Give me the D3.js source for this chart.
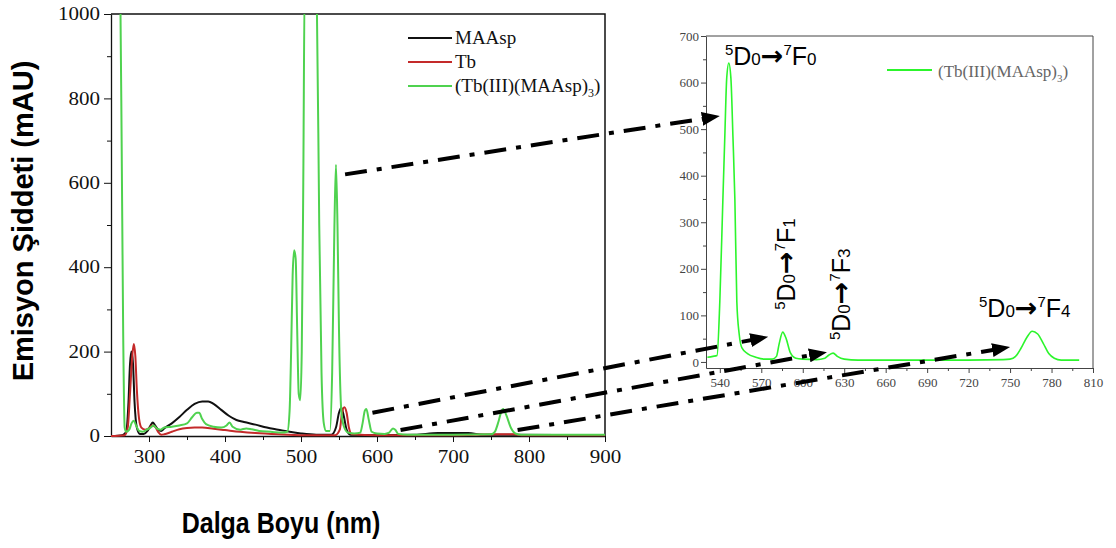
<!DOCTYPE html>
<html>
<head>
<meta charset="utf-8">
<script src="https://cdn.jsdelivr.net/npm/d3@7"></script>
<style>
  body { margin: 0; background: #fff; }
  svg { display: block; }
</style>
</head>
<body>
<svg id="chart" width="1116" height="548"></svg>
<script>
// ---- data ----
// main spectrum (nm / intensity mAU)
var maaspNm  = [250, 265, 270, 273, 275, 277, 279, 281, 284, 288, 293, 298, 302, 305, 308, 312, 316, 320, 330, 340, 350, 360, 370, 378, 385, 395, 405, 415, 425, 440, 455, 470, 485, 500, 520, 540, 546, 550, 553, 556, 560, 565, 600, 650, 680, 720, 740, 900];
var maaspVal = [0, 2, 10, 80, 170, 200, 170, 80, 20, 5, 5, 12, 25, 32, 25, 15, 12, 18, 30, 45, 62, 76, 82, 82, 76, 62, 48, 38, 33, 27, 20, 15, 10, 6, 3, 3, 20, 55, 67, 50, 15, 3, 2, 3, 7, 7, 3, 2];

var tbNm  = [250, 268, 272, 275, 278, 280, 282, 284, 287, 290, 295, 300, 304, 308, 312, 316, 320, 330, 340, 350, 360, 370, 385, 400, 420, 440, 470, 500, 545, 551, 554, 557, 560, 563, 567, 600, 700, 760, 780, 790, 900];
var tbVal = [0, 2, 20, 100, 190, 218, 190, 110, 40, 20, 15, 18, 25, 22, 10, 3, 4, 10, 16, 19, 20, 20, 17, 14, 10, 7, 4, 2, 2, 15, 55, 68, 55, 20, 4, 2, 2, 4, 4, 2, 2];

var complexNm  = [250, 260, 262, 264, 266, 268, 270, 274, 277, 280, 283, 287, 292, 297, 302, 306, 310, 315, 320, 330, 340, 350, 357, 363, 366, 370, 375, 385, 395, 402, 406, 410, 420, 428, 435, 445, 460, 475, 482, 485, 487, 489, 491, 493, 495, 497, 499, 501, 503, 505, 518, 521, 524, 527, 530, 533, 538, 541, 544, 546, 548, 550, 553, 556, 562, 570, 578, 581, 584, 586, 589, 593, 600, 610, 616, 621, 624, 628, 640, 700, 750, 755, 760, 764, 766, 770, 776, 782, 790, 900];
var complexVal = [1400, 1300, 1100, 700, 250, 20, 10, 15, 30, 36, 25, 12, 10, 15, 20, 25, 18, 15, 20, 22, 25, 30, 45, 55, 55, 40, 28, 22, 20, 25, 32, 22, 15, 18, 16, 12, 10, 8, 10, 60, 200, 380, 440, 420, 250, 100, 85, 200, 600, 1100, 1100, 1000, 500, 150, 30, 12, 12, 150, 500, 643, 500, 250, 60, 25, 8, 6, 8, 30, 60, 64, 40, 10, 6, 5, 8, 18, 15, 5, 3, 3, 4, 10, 35, 60, 64, 50, 20, 6, 3, 3];

// inset: zoomed complex spectrum
var insetNm  = [531, 535, 538, 540, 542.2, 543.6, 545, 546.5, 548, 549.5, 550.9, 552.3, 554, 556, 560, 566, 572, 578, 581, 583, 585.5, 588, 591, 595, 600, 610, 616, 619, 622, 625, 630, 640, 680, 720, 745, 750, 754, 758, 762, 766, 770, 774, 778, 782, 787, 795, 800];
var insetVal = [10, 12, 14, 130, 348, 483, 610, 642, 610, 483, 348, 130, 60, 30, 18, 10, 6, 6, 12, 40, 64, 50, 20, 8, 6, 5, 8, 15, 19, 12, 6, 4, 4, 4, 5, 6, 12, 30, 52, 66, 60, 40, 18, 8, 4, 4, 4];

var mainXTicks = [300, 400, 500, 600, 700, 800, 900];
var mainXMinor = [350, 450, 550, 650, 750, 850];
var mainYTicks = [0, 200, 400, 600, 800, 1000];
var mainYMinor = [100, 300, 500, 700, 900];
var insetXTicks = [540, 570, 600, 630, 660, 690, 720, 750, 780, 810];
var insetXMinor = [555, 585, 615, 645, 675, 705, 735, 765, 795];
var insetYTicks = [0, 100, 200, 300, 400, 500, 600, 700];
var insetYMinor = [50, 150, 250, 350, 450, 550, 650];

var seriesNames = ["MAAsp", "Tb", "(Tb(III)(MAAsp)"];

// dash-dot arrows: from main chart (nm, value) to inset (nm, value)
var arrowFrom = [[558, 620], [594, 55], [631, 14], [785, 14]];
var arrowTo   = [[540, 528], [575, 54], [617.5, 21], [750, 32]];

// transition labels placed in inset coordinates
var transSub = ["0", "1", "3", "4"];
var transNm  = [543.7, 594.4, 634.2, 727.5];
var transVal = [638, 112, 47, 96];
var transRot = [0, -90, -90, 0];

// ---- setup ----
var svg = d3.select("#chart");
var serif = "'Liberation Serif', 'DejaVu Serif', serif";
var sans = "'Liberation Sans', Arial, sans-serif";

var x = d3.scaleLinear().domain([250, 900]).range([111, 605]);
var y = d3.scaleLinear().domain([0, 1000]).range([436, 14]);
var xi = d3.scaleLinear().domain([530, 810]).range([706, 1093]);
var yi = d3.scaleLinear().domain([-13, 700]).range([368, 36]);

svg.append("defs").append("clipPath").attr("id", "mainClip")
  .append("rect").attr("x", 111).attr("y", 14).attr("width", 494).attr("height", 424);

svg.select("defs").append("marker")
  .attr("id", "head")
  .attr("viewBox", "0 0 18 14")
  .attr("refX", 18).attr("refY", 7)
  .attr("markerWidth", 18).attr("markerHeight", 14)
  .attr("markerUnits", "userSpaceOnUse")
  .attr("orient", "auto")
  .append("path").attr("d", "M0,0 L18,7 L0,14 Z").attr("fill", "#000");

// ---- main chart ----
function styleMainLabels(g) {
  g.selectAll("text")
    .style("font-family", serif).style("font-size", "18px").attr("fill", "#111")
    .attr("textLength", function(d) { return String(d).length * 10.5; })
    .attr("lengthAdjust", "spacingAndGlyphs");
  g.selectAll("line").attr("stroke", "#111");
  g.select(".domain").attr("stroke", "#111").attr("stroke-width", 1.3);
}

svg.append("g").attr("transform", "translate(0,436)")
  .call(d3.axisBottom(x).tickValues(mainXMinor).tickSize(4).tickFormat("").tickSizeOuter(0))
  .call(g => g.select(".domain").remove())
  .selectAll("line").attr("stroke", "#111");
svg.append("g").attr("transform", "translate(0,436)")
  .call(d3.axisBottom(x).tickValues(mainXTicks).tickSize(6).tickPadding(8).tickFormat(d3.format("d")).tickSizeOuter(0))
  .call(styleMainLabels);

svg.append("g").attr("transform", "translate(111,0)")
  .call(d3.axisLeft(y).tickValues(mainYMinor).tickSize(4).tickFormat("").tickSizeOuter(0))
  .call(g => g.select(".domain").remove())
  .selectAll("line").attr("stroke", "#111");
svg.append("g").attr("transform", "translate(111,0)")
  .call(d3.axisLeft(y).tickValues(mainYTicks).tickSize(7).tickPadding(4).tickFormat(d3.format("d")).tickSizeOuter(0))
  .call(styleMainLabels);

// frame top / right
svg.append("path")
  .attr("d", "M" + x(250) + "," + y(1000) + "H" + x(900) + "V" + y(0))
  .attr("fill", "none").attr("stroke", "#111").attr("stroke-width", 1.5);

var line = d3.line().curve(d3.curveMonotoneX);
var plot = svg.append("g").attr("clip-path", "url(#mainClip)");
var mainSeries = [
  { nm: maaspNm, val: maaspVal, color: "#111111" },
  { nm: tbNm, val: tbVal, color: "#c42a2a" },
  { nm: complexNm, val: complexVal, color: "#4fd24f" }
];
mainSeries.forEach(function(s) {
  plot.append("path")
    .attr("d", line(s.nm.map((n, i) => [x(n), y(s.val[i])])))
    .attr("fill", "none").attr("stroke", s.color).attr("stroke-width", 2);
});

// legend
var legend = svg.append("g");
mainSeries.forEach(function(s, i) {
  var ly = 38 + i * 24;
  legend.append("line").attr("x1", 408).attr("x2", 452).attr("y1", ly).attr("y2", ly)
    .attr("stroke", s.color).attr("stroke-width", 2);
  var t = legend.append("text").attr("x", 455).attr("y", ly + 6)
    .style("font-family", serif).style("font-size", "19px").attr("fill", "#111")
    .text(seriesNames[i]);
  if (i === 2) {
    t.append("tspan").attr("dy", 5).style("font-size", "12px").text("3");
    t.append("tspan").attr("dy", -5).text(")");
  }
});

// axis titles
svg.append("text")
  .attr("transform", "translate(33,221) rotate(-90)")
  .attr("text-anchor", "middle")
  .style("font-family", sans).style("font-size", "29px").style("font-weight", "bold")
  .text("Emisyon Şiddeti (mAU)");
svg.append("text")
  .attr("transform", "translate(281,533) scale(1,1.2)")
  .attr("text-anchor", "middle")
  .style("font-family", sans).style("font-size", "25px").style("font-weight", "bold")
  .text("Dalga Boyu (nm)");

// ---- inset ----
function styleInset(g) {
  g.selectAll("text").style("font-family", serif).style("font-size", "13px").attr("fill", "#444");
  g.selectAll("line").attr("stroke", "#444");
  g.select(".domain").attr("stroke", "#444");
}
svg.append("g").attr("transform", "translate(0,368)")
  .call(d3.axisBottom(xi).tickValues(insetXMinor).tickSize(3).tickFormat("").tickSizeOuter(0))
  .call(g => g.select(".domain").remove())
  .selectAll("line").attr("stroke", "#444");
svg.append("g").attr("transform", "translate(0,368)")
  .call(d3.axisBottom(xi).tickValues(insetXTicks).tickSize(5).tickPadding(5).tickSizeOuter(0))
  .call(styleInset);
svg.append("g").attr("transform", "translate(706,0)")
  .call(d3.axisLeft(yi).tickValues(insetYMinor).tickSize(3).tickFormat("").tickSizeOuter(0))
  .call(g => g.select(".domain").remove())
  .selectAll("line").attr("stroke", "#444");
svg.append("g").attr("transform", "translate(706,0)")
  .call(d3.axisLeft(yi).tickValues(insetYTicks).tickSize(5).tickPadding(2).tickSizeOuter(0))
  .call(styleInset);

svg.append("path")
  .attr("d", "M" + xi(530) + "," + yi(700) + "H" + xi(810) + "V" + yi(-13))
  .attr("fill", "none").attr("stroke", "#444").attr("stroke-width", 1);

svg.append("path")
  .attr("d", line(insetNm.map((n, i) => [xi(n), yi(insetVal[i])])))
  .attr("fill", "none").attr("stroke", "#2cf52c").attr("stroke-width", 1.6);

// inset legend
svg.append("line").attr("x1", 887).attr("x2", 932).attr("y1", 70).attr("y2", 70)
  .attr("stroke", "#2cf52c").attr("stroke-width", 2);
var il = svg.append("text").attr("x", 938).attr("y", 77)
  .style("font-family", serif).style("font-size", "17px").attr("fill", "#666")
  .text(seriesNames[2]);
il.append("tspan").attr("dy", 5).style("font-size", "11px").text("3");
il.append("tspan").attr("dy", -5).text(")");

// transition labels
transSub.forEach(function(sub, i) {
  var px = xi(transNm[i]), py = yi(transVal[i]);
  var t = svg.append("text")
    .attr("transform", "translate(" + px + "," + py + ") rotate(" + transRot[i] + ")")
    .style("font-family", sans).attr("fill", "#000");
  t.append("tspan").style("font-size", "15px").attr("dy", -10).text("5");
  t.append("tspan").style("font-size", "25px").attr("dy", 10).text("D");
  t.append("tspan").style("font-size", "17px").text("0");
  t.append("tspan").style("font-size", "27px").style("font-weight", "bold")
    .style("font-family", "'DejaVu Sans', sans-serif").text("→");
  t.append("tspan").style("font-size", "15px").attr("dy", -10).text("7");
  t.append("tspan").style("font-size", "25px").attr("dy", 10).text("F");
  t.append("tspan").style("font-size", "17px").text(sub);
});

// dash-dot arrows
arrowFrom.forEach(function(f, i) {
  var x1 = x(f[0]), y1 = y(f[1]);
  var x2 = xi(arrowTo[i][0]), y2 = yi(arrowTo[i][1]);
  var len = Math.hypot(x2 - x1, y2 - y1);
  var ex = x2 - (x2 - x1) / len * 10, ey = y2 - (y2 - y1) / len * 10;
  svg.append("line")
    .attr("x1", x1).attr("y1", y1).attr("x2", ex).attr("y2", ey)
    .attr("stroke", "#000").attr("stroke-width", 4)
    .attr("stroke-dasharray", "22,10,5,10");
  svg.append("line")
    .attr("x1", ex - (x2 - x1) / len).attr("y1", ey - (y2 - y1) / len)
    .attr("x2", x2).attr("y2", y2)
    .attr("stroke", "none").attr("marker-end", "url(#head)");
});
</script>
</body>
</html>
